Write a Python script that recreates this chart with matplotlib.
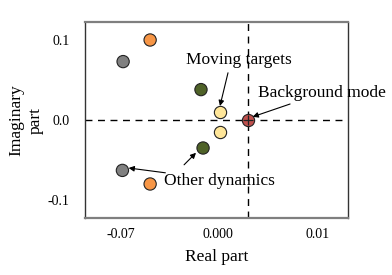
import matplotlib.pyplot as plt

plt.rcParams['font.family'] = ['Liberation Serif', 'DejaVu Serif']

# eigenvalue locations (real, imaginary)
other_re = [-0.049, -0.0685, -0.0123, -0.0108, -0.069, -0.049]
other_im = [0.100, 0.073, 0.038, -0.035, -0.063, -0.080]
other_col = ['#f79646', '#808080', '#4f6228', '#4f6228', '#808080', '#f79646']
moving_re = [0.0014, 0.0014]
moving_im = [0.010, -0.015]
bg_re = [0.0216]
bg_im = [0.0]

xtick_pos = [-0.07, 0.0, 0.072]
xtick_lab = ['-0.07', '0.000', '0.01']
ytick_pos = [0.1, 0.0, -0.1]
ytick_lab = ['0.1', '0.0', '-0.1']

fig = plt.figure(figsize=(3.92, 2.75), dpi=100)
ax = fig.add_axes([85/392, 57/275, 263/392, 196/275])

ax.axhline(0, color='black', ls='--', lw=1, dashes=(5, 4), zorder=1)
ax.axvline(bg_re[0], color='black', ls='--', lw=1, dashes=(5, 4), zorder=1)

ax.scatter(other_re, other_im, s=78, c=other_col, edgecolors='#222222', linewidths=0.8, zorder=3)
ax.scatter(moving_re, moving_im, s=78, c='#ffe699', edgecolors='#222222', linewidths=0.8, zorder=3)
ax.scatter(bg_re, bg_im, s=78, c='#c0504d', edgecolors='#222222', linewidths=0.8, zorder=3)
ax.scatter(bg_re, bg_im, s=60, marker='+', c='#222222', linewidths=0.9, zorder=4)

ax.set_xlim(-0.096, 0.0938)
ax.set_ylim(-0.1225, 0.1225)
ax.set_xticks(xtick_pos)
ax.set_xticklabels(xtick_lab)
ax.set_yticks(ytick_pos)
ax.set_yticklabels(ytick_lab)
ax.tick_params(length=0, labelsize=10, pad=7)
ax.tick_params(axis='y', pad=11)
ax.set_xlabel('Real part', fontsize=12.5, labelpad=6)
ax.set_ylabel('Imaginary\npart', fontsize=12.5, labelpad=3, linespacing=1.25)

for side in ['top', 'bottom']:
    ax.spines[side].set_color('#7f7f7f')
    ax.spines[side].set_linewidth(1.6)
for side in ['left', 'right']:
    ax.spines[side].set_color('#333333')
    ax.spines[side].set_linewidth(1.0)

fs = 12.5
ax.text(0.0152, 0.075, 'Moving targets', ha='center', va='center', fontsize=fs)
ax.text(0.075, 0.034, 'Background mode', ha='center', va='center', fontsize=fs)
ax.text(0.0007, -0.076, 'Other dynamics', ha='center', va='center', fontsize=fs)

arrow = dict(arrowstyle='-|>', color='black', lw=0.8, mutation_scale=8, shrinkA=0, shrinkB=0)
ax.annotate('', xy=(0.0014, 0.0175), xytext=(0.0072, 0.059), arrowprops=arrow)
ax.annotate('', xy=(0.025, 0.004), xytext=(0.052, 0.020), arrowprops=arrow)
ax.annotate('', xy=(-0.0645, -0.060), xytext=(-0.038, -0.066), arrowprops=arrow)
ax.annotate('', xy=(-0.0159, -0.041), xytext=(-0.0245, -0.056), arrowprops=arrow)

fig.savefig('out.png', dpi=100)
